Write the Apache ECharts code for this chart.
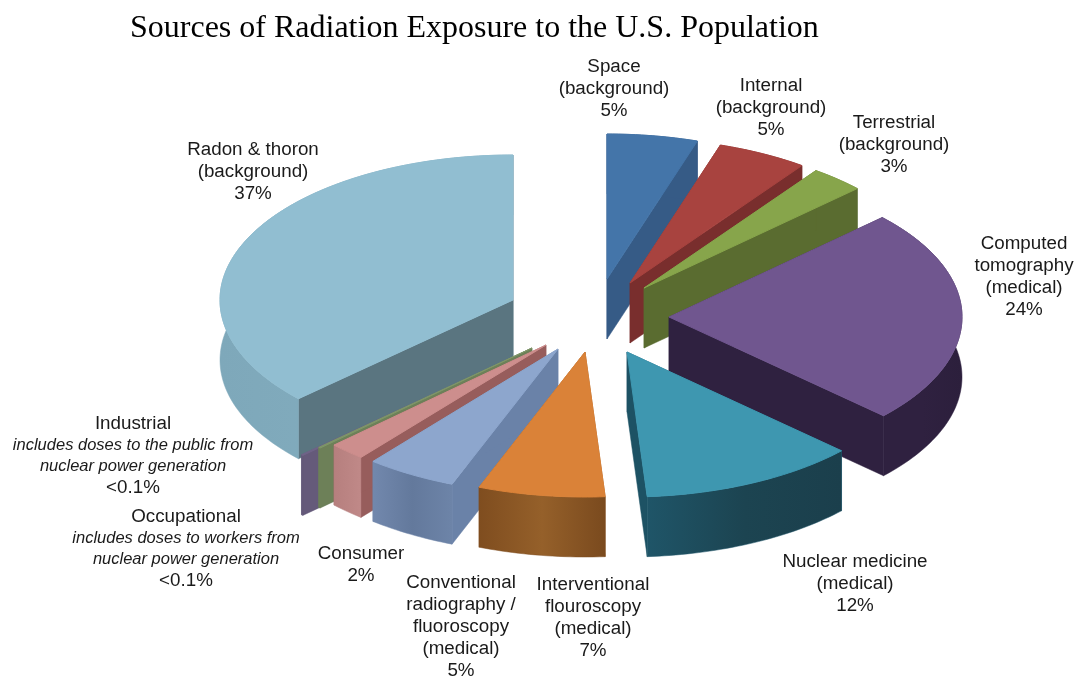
<!DOCTYPE html>
<html><head><meta charset="utf-8">
<style>html,body{margin:0;padding:0;background:#fff}#c{width:1080px;height:679px}</style>
<script src="https://cdn.jsdelivr.net/npm/echarts@6/dist/echarts.min.js"></script>
</head><body><div id="c"></div>
<script>
// ---- data (clockwise from 12 o'clock) ----
const categories = ['Space','Internal','Terrestrial','Computed tomography','Nuclear medicine',
  'Interventional flouroscopy','Conventional radiography / fluoroscopy','Consumer','Occupational','Industrial','Radon & thoron'];
const shares = [5,5,3,24,12,7,5,2,0.1,0.1,37];
const titleText = 'Sources of Radiation Exposure to the U.S. Population';
const labelLines = [
  ['Space','(background)','5%'],
  ['Internal','(background)','5%'],
  ['Terrestrial','(background)','3%'],
  ['Computed','tomography','(medical)','24%'],
  ['Nuclear medicine','(medical)','12%'],
  ['Interventional','flouroscopy','(medical)','7%'],
  ['Conventional','radiography /','fluoroscopy','(medical)','5%'],
  ['Consumer','2%'],
  ['Occupational','*includes doses to workers from','*nuclear power generation','<0.1%'],
  ['Industrial','*includes doses to the public from','*nuclear power generation','<0.1%'],
  ['Radon & thoron','(background)','37%']
];
// ---- layout & style ----
const center = [580,330], rx = 293, ry = 145, depth = 60;
const explode = [[27,-51],[50,-47],[64,-42],[89,-13],[47,22],[5,22],[-22,19],[-34,15],[-48,18],[-64,26],[-67,-30]];
const drawOrder = [10,9,8,7,6,5,0,1,2,3,4];
const labelPos = [[614,56],[771,75],[894,112],[1024,233],[855,551],[593,574],[461,572],[361,543],[186,506],[133,413],[253,139]];
const colors = [
 {top:'#4475a9',side:'#365b86',arc:['#365b86','#365b86']},
 {top:'#a8433f',side:'#792e2d',arc:['#792e2d','#792e2d']},
 {top:'#87a54b',side:'#5a6c30',arc:['#5a6c30','#5a6c30']},
 {top:'#70568f',side:'#2f2140',arc:['#2f2140','#2f2140','#2c1f3c']},
 {top:'#3e97b0',side:'#1d5264',arc:['#1f5568','#1c4451','#1b3f4c']},
 {top:'#da8238',side:'#8a5524',arc:['#7f4d1f','#95602a','#7a4a1e']},
 {top:'#8da6cd',side:'#6a82a8',arc:['#7288ad','#63799c','#6d84a8']},
 {top:'#cd8e8d',side:'#975d5c',arc:['#b67f7e','#c08988']},
 {top:'#7e9669',side:'#6d8058',arc:['#6d8058','#6d8058']},
 {top:'#6f6488',side:'#655a7a',arc:['#655a7a','#655a7a']},
 {top:'#91bed1',side:'#5a7580',arc:['#7ea8ba','#86b0c1']}
];
const total = shares.reduce((a,b)=>a+b,0);
const cumulative = shares.reduce((acc,v)=>{acc.push(acc[acc.length-1]+v);return acc;},[0]);
const grad = arr => new echarts.graphic.LinearGradient(0,0,1,0,arr.map((c,i)=>({offset:i/(arr.length-1),color:c})));

function renderItem(params, api){
  const i = api.value(0);
  const a0 = cumulative[i]/total*Math.PI*2, a1 = cumulative[i+1]/total*Math.PI*2;
  const ax = center[0]+explode[i][0], ay = center[1]+explode[i][1];
  const P = (t,d=0)=>[ax+rx*Math.sin(t), ay-ry*Math.cos(t)+d];
  const n = Math.max(2,Math.ceil((a1-a0)/0.02));
  const arcTop=[], arcLow=[];
  for(let k=0;k<=n;k++){const t=a0+(a1-a0)*k/n; arcTop.push(P(t)); arcLow.push(P(t,depth));}
  const c = colors[i];
  const poly=(pts,fill,stroke,lw)=>({type:'polygon',shape:{points:pts},style:{fill,stroke:stroke||fill,lineWidth:lw==null?0.5:lw}});
  return {type:'group',children:[
    poly([[ax,ay],[ax,ay+depth],P(a0,depth),P(a0)],c.side),
    poly([[ax,ay],[ax,ay+depth],P(a1,depth),P(a1)],c.side),
    poly(arcTop.concat(arcLow.slice().reverse()),grad(c.arc),c.arc[0]),
    poly([[ax,ay]].concat(arcTop),c.top,c.top,1)
  ]};
}
const labelGraphics = labelLines.map((lines,i)=>({
  type:'text',x:labelPos[i][0],y:labelPos[i][1],silent:true,
  style:{
    text:lines.map(l=>l[0]==='*'?`{i|${l.slice(1)}}`:`{n|${l}}`).join('\n'),
    align:'center',verticalAlign:'top',
    rich:{
      n:{fontFamily:'Liberation Sans',fontSize:18.8,lineHeight:22,fill:'#1a1a1a',align:'center'},
      i:{fontFamily:'Liberation Sans',fontSize:16.5,fontStyle:'italic',lineHeight:21,fill:'#1a1a1a',align:'center'}
    }
  }
}));
const chart = echarts.init(document.getElementById('c'),null,{renderer:'canvas'});
chart.setOption({
  animation:false,backgroundColor:'#fff',
  title:{text:titleText,left:125,top:8,textStyle:{fontFamily:'Liberation Serif',fontSize:32,fontWeight:'normal',color:'#000'}},
  series:[{type:'custom',coordinateSystem:'none',renderItem,silent:true,
    data:drawOrder.map(i=>({name:categories[i],value:[i,shares[i]]}))}],
  graphic:{elements:labelGraphics}
});
</script></body></html>
